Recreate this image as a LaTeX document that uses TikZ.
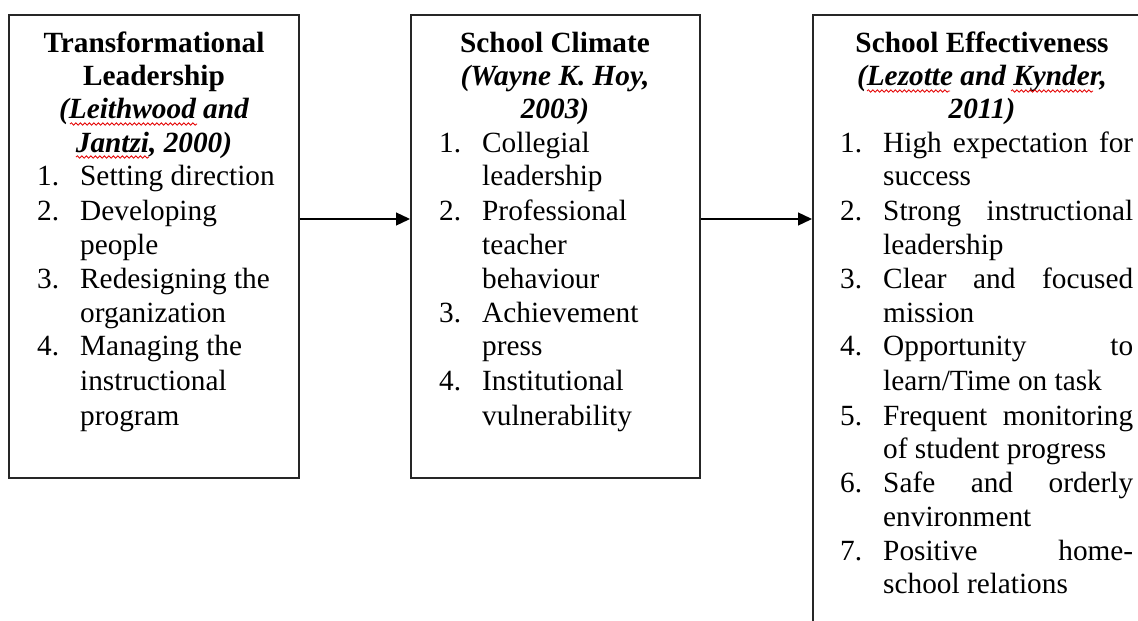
\documentclass[tikz,border=0pt]{standalone}
\usepackage{fontspec}
\setmainfont{Liberation Serif}
\usetikzlibrary{arrows.meta,decorations.pathmorphing}
\newcommand\dfs{\fontsize{29.3}{34}\selectfont}
\newcommand\jl[1]{\makebox[250pt][s]{#1}}
\begin{document}
\begin{tikzpicture}[x=1pt,y=-1pt,
  box/.style={draw=black!85, line width=1.5pt, anchor=north west, inner sep=0pt},
  ln/.style={anchor=base west, inner sep=0pt, font=\dfs},
  ttl/.style={anchor=base, inner sep=0pt, font=\dfs\bfseries},
  cit/.style={anchor=base, inner sep=0pt, font=\dfs\bfseries\itshape},
  conn/.style={line width=1.3pt, -{Triangle[length=14pt,width=13pt]}},
  spell/.style={red!90!black, line width=0.8pt, decorate, decoration={snake, amplitude=1.2pt, segment length=4.5pt}}]
\useasboundingbox (0,0) rectangle (1138,621);
\clip (0,0) rectangle (1138,621);
\fill[white] (0,0) rectangle (1138,621);
% boxes
\node[box, minimum width=290pt, minimum height=463pt] (b1) at (8,14) {};
\node[box, minimum width=289pt, minimum height=463pt] (b2) at (410,14) {};
\node[box, minimum width=360pt, minimum height=660pt] (b3) at (812,14) {};
% connectors
\coordinate (ay) at (0,219);
\draw[conn] (b1.east |- ay) -- (b2.west |- ay);
\draw[conn] (b2.east |- ay) -- (b3.west |- ay);
% box 1
\node[ttl] (a0) at (154,52) {Transformational};
\node[ttl] (a1) at (154,85) {Leadership};
\node[cit] (a2) at (154,118) {(Leithwood and};
\node[cit] (a3) at (154,152) {Jantzi, 2000)};
\node[ln] (an1) at (37,185) {1.};
\node[ln] (a4) at (80,185) {Setting direction};
\node[ln] (an2) at (37,220) {2.};
\node[ln] (a5) at (80,220) {Developing};
\node[ln] (a6) at (80,254) {people};
\node[ln] (an3) at (37,288) {3.};
\node[ln] (a7) at (80,288) {Redesigning the};
\node[ln] (a8) at (80,322) {organization};
\node[ln] (an4) at (37,355) {4.};
\node[ln] (a9) at (80,355) {Managing the};
\node[ln] (a10) at (80,390) {instructional};
\node[ln] (a11) at (80,425) {program};
% box 2
\node[ttl] (c0) at (555,52) {School Climate};
\node[cit] (c1) at (555,85) {(Wayne K. Hoy,};
\node[cit] (c2) at (555,118) {2003)};
\node[ln] (cn1) at (439,152) {1.};
\node[ln] (c3) at (482,152) {Collegial};
\node[ln] (c4) at (482,185) {leadership};
\node[ln] (cn2) at (439,220) {2.};
\node[ln] (c5) at (482,220) {Professional};
\node[ln] (c6) at (482,254) {teacher};
\node[ln] (c7) at (482,288) {behaviour};
\node[ln] (cn3) at (439,322) {3.};
\node[ln] (c8) at (482,322) {Achievement};
\node[ln] (c9) at (482,355) {press};
\node[ln] (cn4) at (439,390) {4.};
\node[ln] (c10) at (482,390) {Institutional};
\node[ln] (c11) at (482,425) {vulnerability};
% box 3
\node[ttl] (e0) at (982,52) {School Effectiveness};
\node[cit] (e1) at (982,85) {(Lezotte and Kynder,};
\node[cit] (e2) at (982,118) {2011)};
\node[ln] (en1) at (840,152) {1.};
\node[ln] (e3) at (883,152) {\jl{High expectation for}};
\node[ln] (e4) at (883,185) {success};
\node[ln] (en2) at (840,220) {2.};
\node[ln] (e5) at (883,220) {\jl{Strong instructional}};
\node[ln] (e6) at (883,254) {leadership};
\node[ln] (en3) at (840,288) {3.};
\node[ln] (e7) at (883,288) {\jl{Clear and focused}};
\node[ln] (e8) at (883,322) {mission};
\node[ln] (en4) at (840,355) {4.};
\node[ln] (e9) at (883,355) {\jl{Opportunity to}};
\node[ln] (e10) at (883,390) {learn/Time on task};
\node[ln] (en5) at (840,425) {5.};
\node[ln] (e11) at (883,425) {\jl{Frequent monitoring}};
\node[ln] (e12) at (883,458) {of student progress};
\node[ln] (en6) at (840,492) {6.};
\node[ln] (e13) at (883,492) {\jl{Safe and orderly}};
\node[ln] (e14) at (883,526) {environment};
\node[ln] (en7) at (840,560) {7.};
\node[ln] (e15) at (883,560) {\jl{Positive home-}};
\node[ln] (e16) at (883,593) {school relations};
% spell-check underlines
\draw[spell] (70,124) -- (197,124);
\draw[spell] (76,157) -- (149,157);
\draw[spell] (867,91) -- (950,91);
\draw[spell] (1011,91) -- (1093,91);
\end{tikzpicture}
\end{document}
